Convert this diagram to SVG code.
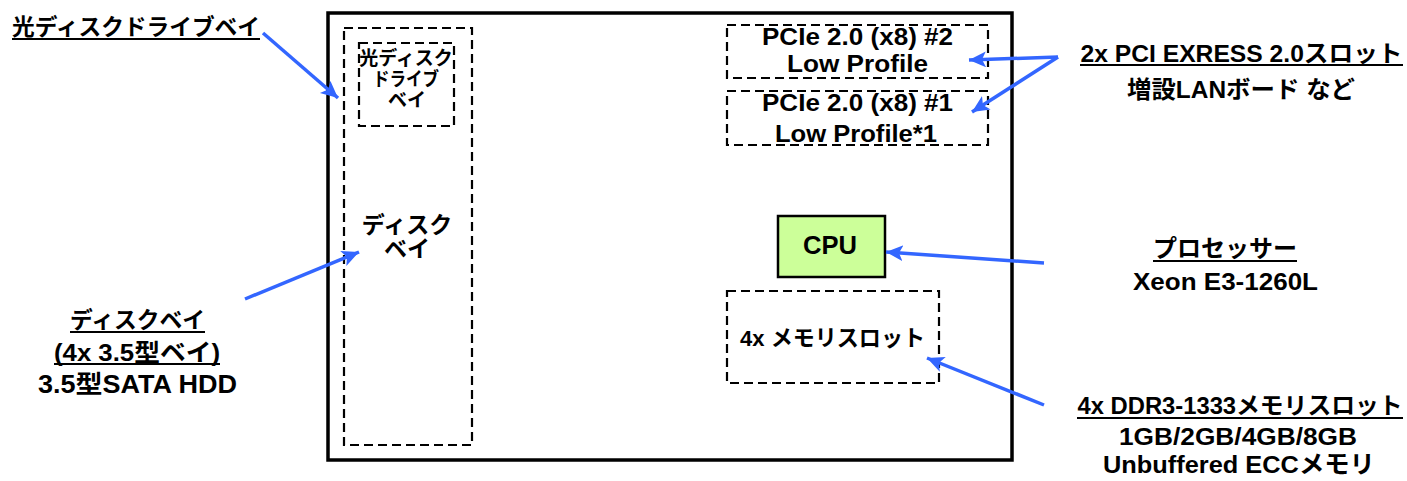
<svg xmlns="http://www.w3.org/2000/svg" width="1407" height="481" viewBox="0 0 1407 481">
<style>
.t{font-family:"Liberation Sans","Noto Sans CJK JP",sans-serif;font-weight:bold;fill:#000;text-anchor:middle}
.dash{fill:none;stroke:#000;stroke-width:2.2;stroke-dasharray:9 5}
.ul{stroke:#000;stroke-width:2}
.arr{stroke:#3366ff;stroke-width:3.5;fill:none;marker-end:url(#ah)}
</style>
<defs>
<marker id="ah" markerUnits="userSpaceOnUse" markerWidth="20" markerHeight="18" refX="17" refY="8" orient="auto">
<path d="M0,0 L17,8 L0,16 L4,8 Z" fill="#3366ff"/>
</marker>
</defs>
<rect width="1407" height="481" fill="#fff"/>
<g id="chassis">
<rect x="328" y="13" width="684" height="447" fill="none" stroke="#000" stroke-width="3.5"/>
</g>
<g id="disk-bay">
<rect class="dash" x="344" y="28" width="128" height="417"/>
<text class="t" x="407" y="233" font-size="23">ディスク</text>
<text class="t" x="407" y="257" font-size="23">ベイ</text>
</g>
<g id="optical-bay">
<rect class="dash" x="359" y="43" width="95" height="83"/>
<text class="t" x="406" y="65" font-size="19">光ディスク</text>
<text class="t" x="406" y="86" font-size="19" textLength="66" lengthAdjust="spacingAndGlyphs">ドライブ</text>
<text class="t" x="407" y="107" font-size="19">ベイ</text>
</g>
<g id="pcie2">
<rect class="dash" x="727" y="25" width="261" height="53"/>
<text class="t" x="857.5" y="45" font-size="24.5" textLength="191" lengthAdjust="spacingAndGlyphs">PCIe 2.0 (x8) #2</text>
<text class="t" x="857.5" y="72" font-size="24.5" textLength="141" lengthAdjust="spacingAndGlyphs">Low Profile</text>
</g>
<g id="pcie1">
<rect class="dash" x="727" y="91" width="261" height="54"/>
<text class="t" x="857.5" y="111" font-size="24.5" textLength="191" lengthAdjust="spacingAndGlyphs">PCIe 2.0 (x8) #1</text>
<text class="t" x="856" y="142" font-size="24.5" textLength="162" lengthAdjust="spacingAndGlyphs">Low Profile*1</text>
</g>
<g id="cpu">
<rect x="778" y="216" width="107" height="61" fill="#ccff99" stroke="#000" stroke-width="2.5"/>
<text class="t" x="830" y="254" font-size="25" textLength="54" lengthAdjust="spacingAndGlyphs">CPU</text>
</g>
<g id="memory-slots">
<rect class="dash" x="727" y="291" width="212" height="92"/>
<text class="t" x="832.5" y="346" font-size="22.5" textLength="185" lengthAdjust="spacingAndGlyphs">4x メモリスロット</text>
</g>
<g id="label-optical">
<text class="t" x="136" y="35" font-size="22.5" textLength="248" lengthAdjust="spacingAndGlyphs">光ディスクドライブベイ</text>
<line class="ul" x1="12" y1="39" x2="260" y2="39"/>
</g>
<g id="label-disk">
<text class="t" x="137.5" y="328" font-size="22.5" textLength="135" lengthAdjust="spacingAndGlyphs">ディスクベイ</text>
<line class="ul" x1="70" y1="332" x2="205" y2="332"/>
<text class="t" x="137" y="361" font-size="24" textLength="166" lengthAdjust="spacingAndGlyphs">(4x 3.5型ベイ)</text>
<line class="ul" x1="54" y1="364" x2="220" y2="364"/>
<text class="t" x="137.5" y="393" font-size="25" textLength="199" lengthAdjust="spacingAndGlyphs">3.5型SATA HDD</text>
</g>
<g id="label-pcie">
<text class="t" x="1241.5" y="62" font-size="23.5" textLength="322" lengthAdjust="spacingAndGlyphs">2x PCI EXRESS 2.0スロット</text>
<line class="ul" x1="1080" y1="65" x2="1403" y2="65"/>
<text class="t" x="1241" y="98" font-size="23.5" textLength="228" lengthAdjust="spacingAndGlyphs">増設LANボード など</text>
</g>
<g id="label-cpu">
<text class="t" x="1225" y="257" font-size="23.5" textLength="144" lengthAdjust="spacingAndGlyphs">プロセッサー</text>
<line class="ul" x1="1153" y1="261" x2="1297" y2="261"/>
<text class="t" x="1225.5" y="290" font-size="24" textLength="185" lengthAdjust="spacingAndGlyphs">Xeon E3-1260L</text>
</g>
<g id="label-memory">
<text class="t" x="1240" y="414" font-size="23.5" textLength="325" lengthAdjust="spacingAndGlyphs">4x DDR3-1333メモリスロット</text>
<line class="ul" x1="1077" y1="418" x2="1403" y2="418"/>
<text class="t" x="1238" y="445" font-size="24.5" textLength="238" lengthAdjust="spacingAndGlyphs">1GB/2GB/4GB/8GB</text>
<text class="t" x="1239" y="473" font-size="24.5" textLength="272" lengthAdjust="spacingAndGlyphs">Unbuffered ECCメモリ</text>
</g>
<g id="connectors">
<line class="arr" x1="263" y1="33" x2="338" y2="98"/>
<line class="arr" x1="245" y1="299" x2="359" y2="252"/>
<line class="arr" x1="1058" y1="57" x2="969" y2="60"/>
<line class="arr" x1="1058" y1="57" x2="972" y2="112"/>
<line class="arr" x1="1044" y1="263" x2="886" y2="252"/>
<line class="arr" x1="1044" y1="405" x2="927" y2="358"/>
</g>
</svg>
